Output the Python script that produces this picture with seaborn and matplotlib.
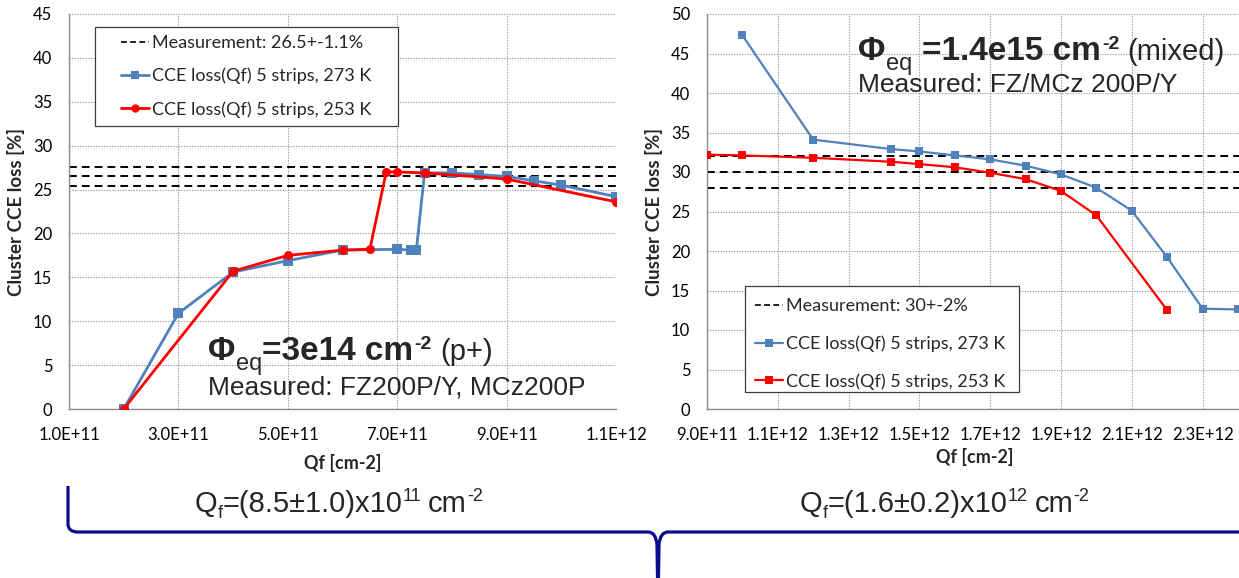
import numpy as np
import pandas as pd
import seaborn as sns
import matplotlib
matplotlib.use("Agg")
import matplotlib.pyplot as plt
from matplotlib import font_manager
from matplotlib.lines import Line2D
from matplotlib.path import Path
from matplotlib.patches import PathPatch, Rectangle
from matplotlib.ticker import FuncFormatter, FixedLocator
from matplotlib.transforms import IdentityTransform

# ---- p+ irradiated sensor, Phi_eq = 3e14 cm^-2 ----
qf_p_273 = [2e11, 3e11, 4e11, 5e11, 6e11, 7e11, 7.25e11, 7.35e11, 7.5e11,
            8e11, 8.5e11, 9e11, 9.5e11, 10e11, 11e11]
loss_p_273 = [0.0, 10.9, 15.6, 16.9, 18.1, 18.2, 18.1, 18.1, 26.9,
              26.9, 26.7, 26.5, 26.0, 25.5, 24.2]
qf_p_253 = [2e11, 4e11, 5e11, 6e11, 6.5e11, 6.8e11, 7e11, 7.5e11, 9e11, 11e11]
loss_p_253 = [0.0, 15.7, 17.5, 18.1, 18.2, 27.0, 27.0, 26.9, 26.2, 23.6]
meas_p, meas_p_err = 26.5, 1.1

# ---- mixed irradiation, Phi_eq = 1.4e15 cm^-2 ----
qf_mix_273 = [1.0e12, 1.2e12, 1.42e12, 1.5e12, 1.6e12, 1.7e12, 1.8e12,
              1.9e12, 2.0e12, 2.1e12, 2.2e12, 2.3e12, 2.4e12]
loss_mix_273 = [47.3, 34.1, 32.9, 32.6, 32.1, 31.6, 30.8,
                29.7, 28.0, 25.1, 19.2, 12.7, 12.6]
qf_mix_253 = [0.9e12, 1.0e12, 1.2e12, 1.42e12, 1.5e12, 1.6e12, 1.7e12,
              1.8e12, 1.9e12, 2.0e12, 2.2e12]
loss_mix_253 = [32.2, 32.1, 31.8, 31.3, 31.0, 30.6, 29.9,
                29.1, 27.6, 24.5, 12.5]
meas_mix, meas_mix_err = 30.0, 2.0

label_273 = "CCE loss(Qf) 5 strips, 273 K"
label_253 = "CCE loss(Qf) 5 strips, 253 K"
ylabel = "Cluster CCE loss [%]"
xlabel = "Qf [cm-2]"

BLUE = "#4F81BD"
RED = "#FF0000"
NAVY = "#0B0B8E"
W, H = 1239, 578

sns.set_style("white")
plt.rcParams["font.family"] = ["Lato", "DejaVu Sans"]

installed = {f.name for f in font_manager.fontManager.ttflist}
ARIAL = "Liberation Sans"
NARROW = "Liberation Sans Narrow" if "Liberation Sans Narrow" in installed else ARIAL

fig = plt.figure(figsize=(W / 100, H / 100), dpi=100)


def px_axes(x0, x1, ytop, ybot):
    return fig.add_axes([x0 / W, 1 - ybot / H, (x1 - x0) / W, (ybot - ytop) / H])


def style_axes(ax, xticks, yticks):
    ax.set_facecolor("white")
    for side in ("top", "right"):
        ax.spines[side].set_visible(False)
    for side in ("left", "bottom"):
        ax.spines[side].set_color("#8C8C8C")
        ax.spines[side].set_linewidth(1.0)
    ax.xaxis.set_major_locator(FixedLocator(xticks))
    ax.yaxis.set_major_locator(FixedLocator(yticks))
    ax.xaxis.set_major_formatter(FuncFormatter(lambda v, p: f"{v:.1E}"))
    ax.yaxis.set_major_formatter(FuncFormatter(lambda v, p: f"{v:g}"))
    ax.grid(True, color="#A0A0A0", linestyle=(0, (1.2, 1.2)), linewidth=0.8)
    ax.set_axisbelow(True)
    ax.tick_params(axis="both", direction="out", length=5, width=0.8,
                   color="#8C8C8C", labelsize=12, labelcolor="#000000")
    ax.tick_params(axis="x", pad=8)
    ax.tick_params(axis="y", pad=7)
    ax.set_xlabel(xlabel, fontsize=13, fontweight="bold", labelpad=8)
    ax.set_ylabel(ylabel, fontsize=13.5, fontweight="bold", labelpad=6)


def draw_series(ax, x, y, color, marker, ms, lw):
    df = pd.DataFrame({"Qf": x, "loss": y})
    sns.lineplot(data=df, x="Qf", y="loss", ax=ax, color=color, marker=marker,
                 markersize=ms, markeredgewidth=0, linewidth=lw,
                 sort=False, estimator=None, legend=False, zorder=3)


def draw_measurement(ax, value, err):
    for v in (value - err, value, value + err):
        ax.axhline(v, color="black", linestyle=(0, (4.0, 2.6)),
                   linewidth=1.4, zorder=2)


def add_legend(ax, meas_text, marker_253, ms, lw, box, handle_x, top_y, spacing):
    x0, y0, x1, y1 = box
    ax.add_patch(Rectangle((x0, H - y1), x1 - x0, y1 - y0,
                           transform=IdentityTransform(), facecolor="white",
                           edgecolor="#3C3C3C", linewidth=0.9, clip_on=False,
                           zorder=4))
    handles = [
        Line2D([], [], color="black", linestyle=(0, (3.5, 2.0)), linewidth=1.2),
        Line2D([], [], color=BLUE, marker="s", markersize=ms, markeredgewidth=0,
               linewidth=lw),
        Line2D([], [], color=RED, marker=marker_253, markersize=ms,
               markeredgewidth=0, linewidth=lw),
    ]
    labels = [meas_text, label_273, label_253]
    leg = ax.legend(handles, labels, loc="upper left",
                    bbox_to_anchor=(handle_x, H - top_y),
                    bbox_transform=IdentityTransform(),
                    frameon=False, fontsize=13, handlelength=1.55,
                    handletextpad=0.17, labelspacing=spacing, borderpad=0,
                    borderaxespad=0)
    leg.set_zorder(5)
    return leg


# ---- left panel ----
axL = px_axes(69, 616, 14, 409)
draw_measurement(axL, meas_p, meas_p_err)
draw_series(axL, qf_p_273, loss_p_273, BLUE, "s", 7, 2.0)
draw_series(axL, qf_p_253, loss_p_253, RED, "o", 6.5, 2.0)
axL.set_xlim(1e11, 1.1e12)
axL.set_ylim(0, 45)
style_axes(axL, np.arange(1e11, 1.1e12 + 1, 2e11), np.arange(0, 46, 5))
add_legend(axL, "Measurement: 26.5+-1.1%", "o", 6, 2.0,
           (95, 27, 398, 126), 121, 35, 0.93)

# ---- right panel (axis runs on past the right edge) ----
axR = px_axes(707, 707 + 16 * 35.4, 14, 409)
draw_measurement(axR, meas_mix, meas_mix_err)
draw_series(axR, qf_mix_273, loss_mix_273, BLUE, "s", 6, 1.6)
draw_series(axR, qf_mix_253, loss_mix_253, RED, "s", 6, 1.6)
axR.set_xlim(9e11, 2.5e12)
axR.set_ylim(0, 50)
style_axes(axR, np.arange(9e11, 2.3e12 + 1, 2e11), np.arange(0, 51, 5))
axR.xaxis.set_label_coords((975 - 707) / (16 * 35.4), -0.1)
add_legend(axR, "Measurement: 30+-2%", "s", 6, 1.6,
           (745, 286, 1019, 392), 755, 298, 1.18)

renderer = fig.canvas.get_renderer()


def rich_text(x, y, parts):
    """Draw text runs side by side; x, y are pixel coords of the baseline (top-left origin)."""
    cx = x
    for s, size, weight, dy, gap, family in parts:
        cx += gap
        t = fig.text(cx, H - y + dy, s, transform=IdentityTransform(),
                     fontsize=size, fontweight=weight, family=family,
                     ha="left", va="baseline", zorder=6)
        cx += t.get_window_extent(renderer).width


rich_text(208, 360, [
    ("Φ", 24, "bold", 0, 0, ARIAL),
    ("eq", 17, "normal", -10, 1, ARIAL),
    ("=3e14 cm", 24, "bold", 0, 0, ARIAL),
    ("-2", 14, "bold", 11, 1, ARIAL),
    ("(p+)", 21, "normal", 0, 8, ARIAL),
])
rich_text(208, 395, [("Measured: FZ200P/Y, MCz200P", 19, "normal", 0, 0, ARIAL)])

rich_text(858, 60, [
    ("Φ", 24, "bold", 0, 0, ARIAL),
    ("eq", 17, "normal", -10, 1, ARIAL),
    ("=1.4e15 cm", 24, "bold", 0, 10, ARIAL),
    ("-2", 14, "bold", 11, 1, ARIAL),
    ("(mixed)", 21, "normal", 0, 8, ARIAL),
])
rich_text(858, 92, [("Measured: FZ/MCz 200P/Y", 19, "normal", 0, 0, ARIAL)])

rich_text(195, 512, [
    ("Q", 21, "normal", 0, 0, NARROW),
    ("f", 13, "normal", -6, 0, NARROW),
    ("=(8.5±1.0)x10", 21, "normal", 0, 0, NARROW),
    ("11", 13, "normal", 11, 0, NARROW),
    ("cm", 21, "normal", 0, 7, NARROW),
    ("-2", 13, "normal", 11, 0, NARROW),
])
rich_text(800, 512, [
    ("Q", 21, "normal", 0, 0, NARROW),
    ("f", 13, "normal", -6, 0, NARROW),
    ("=(1.6±0.2)x10", 21, "normal", 0, 0, NARROW),
    ("12", 13, "normal", 11, 0, NARROW),
    ("cm", 21, "normal", 0, 7, NARROW),
    ("-2", 13, "normal", 11, 0, NARROW),
])


# ---- brace grouping both panels ----
def P(x, y):
    return (x, H - y)


left_arm = Path([P(68, 486), P(68, 524), P(68, 532), P(78, 532), P(648, 532),
                 P(656, 532), P(657, 545), P(657.5, 578)],
                [Path.MOVETO, Path.LINETO, Path.CURVE3, Path.CURVE3, Path.LINETO,
                 Path.CURVE3, Path.CURVE3, Path.LINETO])
right_arm = Path([P(1245, 532), P(668, 532), P(660, 532), P(659, 545), P(658.5, 578)],
                 [Path.MOVETO, Path.LINETO, Path.CURVE3, Path.CURVE3, Path.LINETO])
for pth in (left_arm, right_arm):
    fig.patches.append(PathPatch(pth, transform=IdentityTransform(), fill=False,
                                 edgecolor=NAVY, linewidth=2.3, capstyle="butt",
                                 joinstyle="round"))

fig.savefig("out.png", dpi=100, facecolor="white")
